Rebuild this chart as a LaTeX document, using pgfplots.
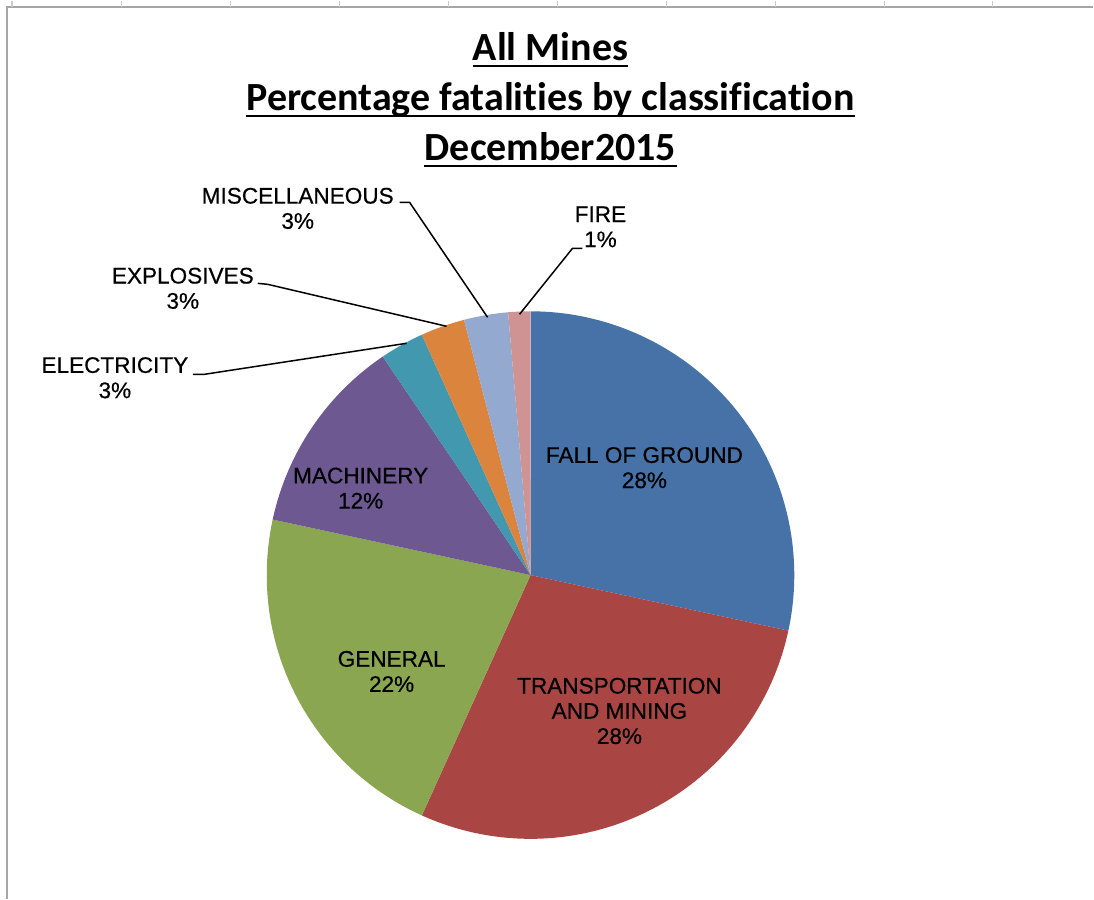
\documentclass[border=0pt]{standalone}
\usepackage{pgfplots}
\pgfplotsset{compat=1.18}
\usepackage{pgfplotstable}
\usepackage{fontspec}
\setmainfont{Liberation Sans}
\newfontfamily\labelfont[FakeBold=0.5]{Liberation Sans}
\newfontfamily\titlefont[Ligatures=NoCommon]{Carlito}

\definecolor{cfall}{HTML}{4672A8}
\definecolor{ctrans}{HTML}{A94644}
\definecolor{cgen}{HTML}{8BA651}
\definecolor{cmach}{HTML}{6E5891}
\definecolor{celec}{HTML}{4298AF}
\definecolor{cexpl}{HTML}{DB843D}
\definecolor{cmisc}{HTML}{93A9CF}
\definecolor{cfire}{HTML}{D09393}

% fatalities by classification (counts), clockwise from 12 o'clock
\pgfplotstableread{
name   count col
fall   21    cfall
trans  21    ctrans
gen    16    cgen
mach   9     cmach
elec   2     celec
expl   2     cexpl
misc   2     cmisc
fire   1     cfire
}\fatalities

\begin{document}
\begin{tikzpicture}
\begin{axis}[
  width=547pt, height=449.5pt, scale only axis,
  xmin=0, xmax=1094, ymin=0, ymax=899,
  hide axis, clip=false,
]
\path (axis cs:0,0) rectangle (axis cs:1094,899);

% frame of the sheet
\draw[gray!70, line width=1pt] (axis cs:7,0) -- (axis cs:7,893) -- (axis cs:1094,893);
\pgfplotsextra{
  \foreach \tk in {12,122,231,340,449,558,667,776,885,993}{
    \draw[gray!40, line width=0.6pt] (axis cs:\tk,893) -- (axis cs:\tk,899);
  }
}

\pgfplotsextra{
  \pgfplotstablegetrowsof{\fatalities}
  \pgfmathtruncatemacro\nrows{\pgfplotsretval-1}
  \gdef\pietotal{0}
  \foreach \i in {0,...,\nrows}{
    \pgfplotstablegetelem{\i}{count}\of\fatalities
    \pgfmathsetmacro\pietmp{\pietotal+\pgfplotsretval}
    \xdef\pietotal{\pietmp}
  }
  \gdef\angstart{90}
  \foreach \i in {0,...,\nrows}{
    \pgfplotstablegetelem{\i}{count}\of\fatalities
    \pgfmathsetmacro\angend{\angstart-\pgfplotsretval/\pietotal*360}
    \pgfplotstablegetelem{\i}{col}\of\fatalities
    \edef\slicecol{\pgfplotsretval}
    \fill[\slicecol] (axis cs:531,324) -- ([shift={(\angstart:132pt)}]axis cs:531,324)
      arc[start angle=\angstart, end angle=\angend, radius=132pt] -- cycle;
    \xdef\angstart{\angend}
  }
}

% title
\begin{scope}[font=\titlefont\bfseries\fontsize{20}{25}\selectfont]
\node[anchor=base, inner sep=0pt] (t1) at (axis cs:551,839) {All Mines};
\node[anchor=base, inner sep=0pt] (t2) at (axis cs:551,789) {Percentage fatalities by classification};
\node[anchor=base, inner sep=0pt] (t3) at (axis cs:551,739) {December2015};
\end{scope}
\pgfplotsextra{
  \foreach \n in {t1,t2,t3}{
    \draw[line width=1pt] ([yshift=-2.6pt]\n.base west) -- ([yshift=-2.6pt]\n.base east);
  }
}

% leader lines
\begin{scope}[line width=0.75pt]
\draw (axis cs:193,525) -- (axis cs:205,525) -- (axis cs:407,556);
\draw (axis cs:258,616) -- (axis cs:268,615) -- (axis cs:447,573);
\draw (axis cs:400,697) -- (axis cs:410,697) -- (axis cs:488,582);
\draw (axis cs:520,585) -- (axis cs:573,651) -- (axis cs:583,651);
\end{scope}

% data labels
\begin{scope}[every node/.style={align=center, inner sep=0pt,
    font=\labelfont\fontsize{11.3}{12.6}\selectfont}]
\node at (axis cs:645,431.5) {FALL OF GROUND\\28\%};
\node at (axis cs:620,188) {TRANSPORTATION\\AND MINING\\28\%};
\node at (axis cs:392,227.5) {GENERAL\\22\%};
\node at (axis cs:361,411) {MACHINERY\\12\%};
\node at (axis cs:115,521.5) {ELECTRICITY\\3\%};
\node at (axis cs:183,611) {EXPLOSIVES\\3\%};
\node at (axis cs:298,691) {MISCELLANEOUS\\3\%};
\node at (axis cs:601,672.5) {FIRE\\1\%};
\end{scope}
\end{axis}
\end{tikzpicture}
\end{document}
